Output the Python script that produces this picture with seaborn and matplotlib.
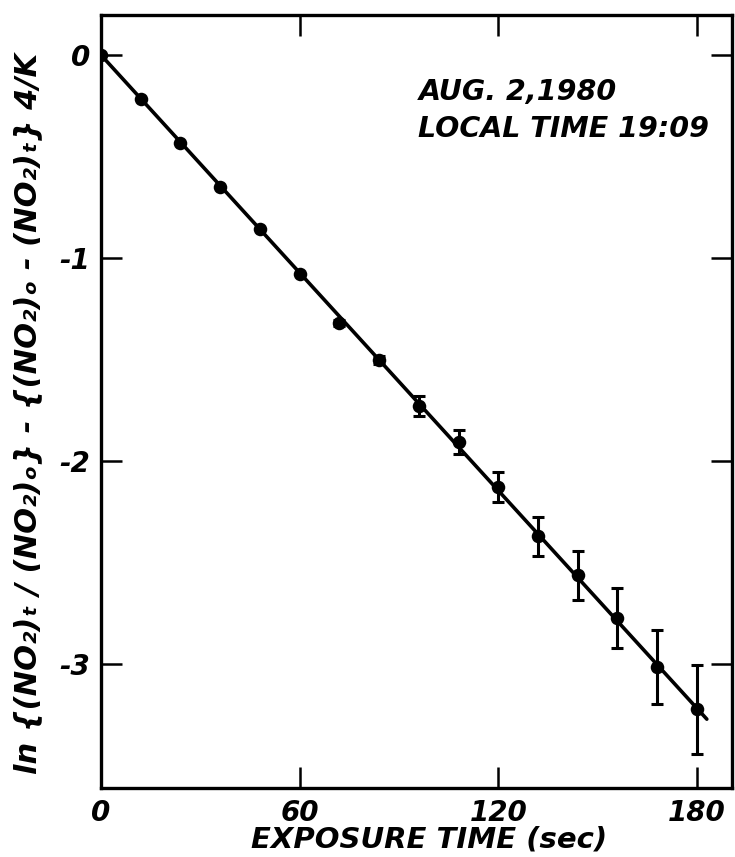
import numpy as np
import pandas as pd
import matplotlib
matplotlib.use("Agg")
import matplotlib.pyplot as plt
import seaborn as sns

# ---- data ----
exposure_time = [0, 12, 24, 36, 48, 60, 72, 84, 96, 108, 120, 132, 144, 156, 168, 180]
ln_value = [0.0, -0.217, -0.433, -0.650, -0.857, -1.079, -1.32, -1.502,
            -1.729, -1.906, -2.128, -2.37, -2.562, -2.773, -3.015, -3.222]
err_value = [0.0, 0.0, 0.0, 0.0, 0.0, 0.0, 0.015, 0.02,
             0.05, 0.06, 0.074, 0.096, 0.12, 0.148, 0.182, 0.22]
x_ticks = [0, 60, 120, 180]
x_tick_labels = ["0", "60", "120", "180"]
y_ticks = [0, -1, -2, -3]
y_tick_labels = ["0", "-1", "-2", "-3"]
fit_end = 183
annotation_lines = ["AUG. 2,1980", "LOCAL TIME 19:09"]
x_label = "EXPOSURE TIME (sec)"
y_label = "ln {(NO\u2082)\u209c / (NO\u2082)\u2092} - {(NO\u2082)\u2092 - (NO\u2082)\u209c} 4/K"

df = pd.DataFrame({"t": exposure_time, "v": ln_value, "e": err_value})

# least-squares slope through the origin for the fitted line
slope = np.sum(df.t * df.v) / np.sum(df.t ** 2)
fit_df = pd.DataFrame({"t": [0, fit_end], "v": [0, slope * fit_end]})

sns.set_theme(style="ticks")
plt.rcParams["font.family"] = ["DejaVu Sans"]
for k in ["text.color", "axes.labelcolor", "xtick.color", "ytick.color", "axes.edgecolor"]:
    plt.rcParams[k] = "black"

fig = plt.figure(figsize=(7.35, 8.57), dpi=100)
ax = fig.add_axes([0.1374, 0.0805, 0.8585, 0.902])

sns.lineplot(data=fit_df, x="t", y="v", color="black", linewidth=2.6, ax=ax)
ax.errorbar(df.t, df.v, yerr=df.e, fmt="none", ecolor="black",
            elinewidth=2.2, capsize=4.5, capthick=2.2, zorder=3)
sns.scatterplot(data=df, x="t", y="v", color="black", s=95,
                edgecolor="black", linewidth=0, ax=ax, zorder=4)

ax.set_xlim(0, 190.6)
ax.set_ylim(-3.61, 0.197)
ax.set_xticks(x_ticks)
ax.set_xticklabels(x_tick_labels, fontsize=20, fontstyle="italic", fontweight="bold")
ax.set_yticks(y_ticks)
ax.set_yticklabels(y_tick_labels, fontsize=20, fontstyle="italic", fontweight="bold")
ax.tick_params(direction="in", length=15, width=1.8, top=True, right=True,
               labeltop=False, labelright=False, pad=8, colors="black")
for sp in ax.spines.values():
    sp.set_linewidth(2.4)
    sp.set_color("black")

ax.set_xlabel(x_label, fontsize=21, fontstyle="italic", fontweight="bold")
ax.xaxis.set_label_coords(0.52, -0.048)
ax.set_ylabel(y_label, fontsize=22, fontstyle="italic", fontweight="bold")
ax.yaxis.set_label_coords(-0.093, 0.485)

ax.text(0.503, 0.9, annotation_lines[0], transform=ax.transAxes, fontsize=20.5,
        fontstyle="italic", fontweight="bold", ha="left", va="center")
ax.text(0.503, 0.852, annotation_lines[1], transform=ax.transAxes, fontsize=20.5,
        fontstyle="italic", fontweight="bold", ha="left", va="center")

fig.savefig("out.png", dpi=100, facecolor="white")
